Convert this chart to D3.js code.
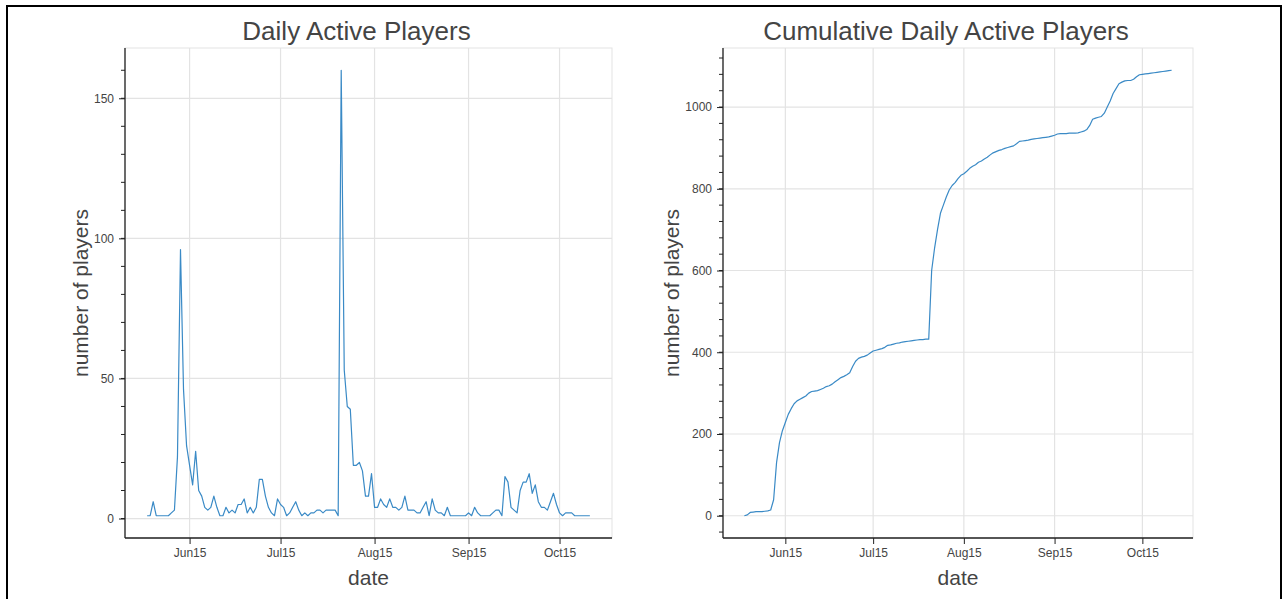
<!DOCTYPE html>
<html>
<head>
<meta charset="utf-8">
<script src="https://cdnjs.cloudflare.com/ajax/libs/d3/7.8.5/d3.min.js"></script>
<style>
  body { margin: 0; background: #fff; }
  svg { display: block; font-family: "Liberation Sans", Arial, Helvetica, sans-serif; }
</style>
</head>
<body>
<div id="graph"></div>
<script>
// one value per day, 18 May 2015 .. 11 Oct 2015
var dates = d3.timeDay.range(new Date(2015, 4, 18), new Date(2015, 9, 12));

var dailyPlayers = [
    1, 1, 6, 1, 1, 1, 1, 1, 2, 3,
    22, 96, 46, 26, 19, 12, 24, 10, 8, 4,
    3, 4, 8, 4, 1, 1, 4, 2, 3, 2,
    5, 5, 7, 2, 4, 2, 4, 14, 14, 8,
    4, 2, 1, 7, 5, 4, 1, 2, 4, 6,
    3, 1, 2, 1, 2, 2, 3, 3, 2, 3,
    3, 3, 3, 1, 160, 53, 40, 39, 19, 19,
    20, 17, 8, 8, 16, 4, 4, 7, 5, 4,
    7, 4, 4, 3, 4, 8, 3, 3, 3, 2,
    2, 4, 6, 1, 7, 3, 2, 2, 1, 4,
    1, 1, 1, 1, 1, 1, 2, 1, 4, 2,
    1, 1, 1, 1, 2, 3, 3, 1, 15, 13,
    4, 3, 2, 10, 13, 13, 16, 9, 12, 6,
    4, 4, 3, 6, 9, 5, 2, 1, 2, 2,
    2, 1, 1, 1, 1, 1, 1
];

var cumulativePlayers = [
    0, 2, 8, 9, 10, 10, 10, 11, 12, 14,
    39, 130, 179, 208, 228, 248, 262, 274, 281, 285,
    289, 293, 300, 304, 305, 306, 309, 312, 316, 318,
    322, 328, 333, 338, 341, 345, 350, 365, 378, 385,
    388, 390, 393, 398, 403, 405, 407, 409, 412, 417,
    418, 420, 422, 423, 425, 426, 427, 428, 429, 430,
    431, 431, 432, 432, 600, 655, 700, 740, 760, 780,
    797, 808, 815, 825, 833, 837, 843, 850, 855, 859,
    865, 868, 873, 877, 883, 888, 891, 894, 896, 899,
    901, 903, 905, 910, 916, 917, 918, 919, 921, 922,
    923, 924, 925, 926, 927, 929, 931, 934, 935, 935,
    935, 936, 936, 936, 937, 939, 941, 945, 955, 970,
    973, 975, 977, 985, 1000, 1015, 1033, 1045, 1057, 1061,
    1064, 1065, 1065, 1068, 1074, 1079, 1080, 1081, 1082, 1083,
    1084, 1085, 1086, 1087, 1088, 1089, 1090
];

var dailyTicks = [0, 50, 100, 150];
var cumulativeTicks = [0, 200, 400, 600, 800, 1000];

var width = 1283, height = 599;
var text_color = "#444";
var grid_color = "#e3e3e3";
var line_color = "#3a8ac6";

var svg = d3.select("#graph").append("svg")
    .attr("width", width)
    .attr("height", height);

// frame around the whole picture
svg.append("rect")
    .attr("x", 7).attr("y", 6)
    .attr("width", 1274).attr("height", 700)
    .attr("fill", "none")
    .attr("stroke", "#000")
    .attr("stroke-width", 2);

// bokeh style range padding: 5% of the data span on each side
function padded(extent) {
    var pad = (extent[1] - extent[0]) * 0.05;
    return [+extent[0] - pad, +extent[1] + pad];
}

function drawPanel(opts) {
    var left = opts.left, right = opts.right, top = 48, bottom = 538;
    var g = svg.append("g");

    var xExt = d3.extent(dates);
    var x = d3.scaleTime()
        .domain(padded(xExt).map(function(d) { return new Date(d); }))
        .range([left, right]);
    var y = d3.scaleLinear()
        .domain(padded(d3.extent(opts.values)))
        .range([bottom, top]);

    var monthTicks = d3.timeMonth.range(x.domain()[0], x.domain()[1]);
    var minorTicks = d3.range(opts.minorStep * Math.ceil(y.domain()[0] / opts.minorStep),
        y.domain()[1], opts.minorStep);

    // outline
    g.append("rect")
        .attr("x", left).attr("y", top)
        .attr("width", right - left).attr("height", bottom - top)
        .attr("fill", "none")
        .attr("stroke", grid_color)
        .attr("stroke-width", 1);

    // grid
    g.selectAll(".vgrid")
        .data(monthTicks)
        .enter().append("line")
        .attr("x1", function(d) { return x(d); })
        .attr("x2", function(d) { return x(d); })
        .attr("y1", top).attr("y2", bottom)
        .attr("stroke", grid_color).attr("stroke-width", 1.2);
    g.selectAll(".hgrid")
        .data(opts.ticks)
        .enter().append("line")
        .attr("x1", left).attr("x2", right)
        .attr("y1", function(d) { return y(d); })
        .attr("y2", function(d) { return y(d); })
        .attr("stroke", grid_color).attr("stroke-width", 1.2);

    // data line
    var line = d3.line()
        .x(function(d, i) { return x(dates[i]); })
        .y(function(d) { return y(d); });
    g.append("path")
        .datum(opts.values)
        .attr("d", line)
        .attr("fill", "none")
        .attr("stroke", line_color)
        .attr("stroke-width", 1.2)
        .attr("stroke-linejoin", "round");

    // x axis
    var xAxis = d3.axisBottom(x)
        .tickValues(monthTicks)
        .tickFormat(d3.timeFormat("%b%y"))
        .tickSize(6)
        .tickPadding(4);
    var gx = g.append("g")
        .attr("transform", "translate(0," + bottom + ")")
        .call(xAxis);
    gx.select(".domain").attr("stroke", "#222").attr("stroke-width", 1.3)
        .attr("d", "M" + left + ",0H" + right);
    gx.selectAll(".tick line").attr("stroke", "#222");
    gx.selectAll(".tick text")
        .attr("fill", text_color)
        .style("font-size", "12px")
        .style("font-family", "Liberation Sans, Arial, sans-serif");

    // y axis
    var yAxis = d3.axisLeft(y)
        .tickValues(opts.ticks)
        .tickFormat(d3.format("d"))
        .tickSize(6)
        .tickPadding(5);
    var gy = g.append("g")
        .attr("transform", "translate(" + left + ",0)")
        .call(yAxis);
    gy.select(".domain").attr("stroke", "#222").attr("stroke-width", 1.3)
        .attr("d", "M0," + top + "V" + bottom);
    gy.selectAll(".tick line").attr("stroke", "#222");
    gy.selectAll(".tick text")
        .attr("fill", text_color)
        .style("font-size", "12px")
        .style("font-family", "Liberation Sans, Arial, sans-serif");
    gy.selectAll(".minor")
        .data(minorTicks)
        .enter().append("line")
        .attr("x1", -4).attr("x2", 0)
        .attr("y1", function(d) { return y(d); })
        .attr("y2", function(d) { return y(d); })
        .attr("stroke", "#222");

    // title and labels
    var cx = (left + right) / 2 - 12;
    g.append("text")
        .attr("x", cx).attr("y", 40)
        .attr("text-anchor", "middle")
        .attr("fill", text_color)
        .style("font-size", "26px")
        .text(opts.title);
    g.append("text")
        .attr("x", (left + right) / 2).attr("y", 585)
        .attr("text-anchor", "middle")
        .attr("fill", text_color)
        .style("font-size", "21px")
        .text("date");
    g.append("text")
        .attr("transform", "translate(" + opts.labelX + "," + (top + bottom) / 2 + ") rotate(-90)")
        .attr("text-anchor", "middle")
        .attr("dy", "0.35em")
        .attr("fill", text_color)
        .style("font-size", "21px")
        .text("number of players");
}

drawPanel({
    left: 125, right: 612,
    values: dailyPlayers,
    ticks: dailyTicks,
    minorStep: 10,
    title: "Daily Active Players",
    labelX: 81
});

drawPanel({
    left: 723, right: 1193,
    values: cumulativePlayers,
    ticks: cumulativeTicks,
    minorStep: 40,
    title: "Cumulative Daily Active Players",
    labelX: 672
});
</script>
</body>
</html>
